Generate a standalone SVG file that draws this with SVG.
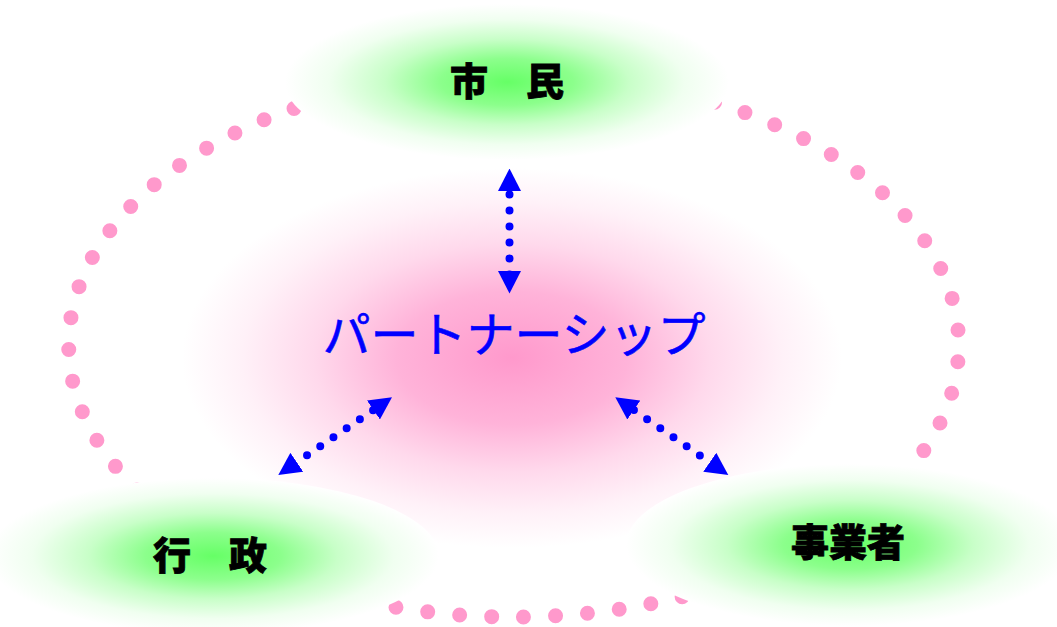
<svg xmlns="http://www.w3.org/2000/svg" width="1057" height="627" viewBox="0 0 1057 627">
  <defs>
    <radialGradient id="pinkGlow" cx="0.5" cy="0.5" r="0.5">
      <stop offset="0" stop-color="#ff99cc"/>
      <stop offset="0.35" stop-color="#ffb3d9"/>
      <stop offset="0.6" stop-color="#ffd9ec"/>
      <stop offset="0.82" stop-color="#fff1f8"/>
      <stop offset="1" stop-color="#ffffff"/>
    </radialGradient>
    <radialGradient id="greenGlow" cx="0.5" cy="0.5" r="0.5">
      <stop offset="0" stop-color="#66ff66"/>
      <stop offset="0.3" stop-color="#8cff8c"/>
      <stop offset="0.55" stop-color="#c8ffc8"/>
      <stop offset="0.8" stop-color="#f0fff0"/>
      <stop offset="1" stop-color="#ffffff"/>
    </radialGradient>
    <marker id="head" viewBox="0 0 22.5 23" markerUnits="userSpaceOnUse" markerWidth="22.5" markerHeight="23" refX="22.5" refY="11.5" orient="auto-start-reverse">
      <path d="M0,0 L22.5,11.5 L0,23 Z" fill="#0000ff"/>
    </marker>
    <style>
      .ring { fill: none; stroke: #ff99cc; stroke-width: 15; stroke-linecap: round; stroke-dasharray: 0 32.03; stroke-dashoffset: -11.5; }
      .halo { fill: url(#greenGlow); }
      .conn { fill: none; stroke: #0000ff; stroke-width: 8; stroke-linecap: round; stroke-dasharray: 0 16 0 16 0 16 0 16 0 16 0 300; marker-start: url(#head); marker-end: url(#head); }
      .label { font-family: "Noto Sans CJK JP", "Noto Sans CJK SC", sans-serif; font-weight: 900; font-size: 38px; fill: #000000; stroke: #000000; stroke-width: 0.8; text-anchor: middle; }
      .center { font-family: "Noto Sans CJK JP", "Noto Sans CJK SC", sans-serif; font-size: 48px; fill: #0000ff; stroke: #0000ff; stroke-width: 0.6; text-anchor: middle; }
    </style>
  </defs>

  <rect width="1057" height="627" fill="#ffffff"/>

  <g id="partnership">
    <ellipse cx="512" cy="358" rx="330" ry="190" fill="url(#pinkGlow)"/>
  </g>

  <g id="ring">
    <path class="ring" d="M513.7,73 A445,272 0 0 1 513.7,617 A445,272 0 0 1 513.7,73"/>
  </g>

  <g id="connectors">
    <path class="conn" d="M509.5,168.5 L509.5,293.5" stroke-dashoffset="-26"/>
    <path class="conn" d="M278.3,475 L392,397.3" stroke-dashoffset="-34.8"/>
    <path class="conn" d="M615.3,397.3 L728.3,475" stroke-dashoffset="-22.6"/>
  </g>

  <g id="node-shimin">
    <ellipse class="halo" cx="507" cy="82" rx="222" ry="78"/>
    <text class="label" x="507" y="95">市　民</text>
  </g>

  <g id="node-gyosei">
    <ellipse class="halo" cx="213" cy="556" rx="226" ry="78"/>
    <text class="label" x="210" y="569">行　政</text>
  </g>

  <g id="node-jigyosha">
    <ellipse class="halo" cx="850" cy="545" rx="224" ry="81"/>
    <text class="label" x="848" y="556">事業者</text>
  </g>

  <g id="center-label">
    <text class="center" x="514" y="352">パートナーシップ</text>
  </g>
</svg>
